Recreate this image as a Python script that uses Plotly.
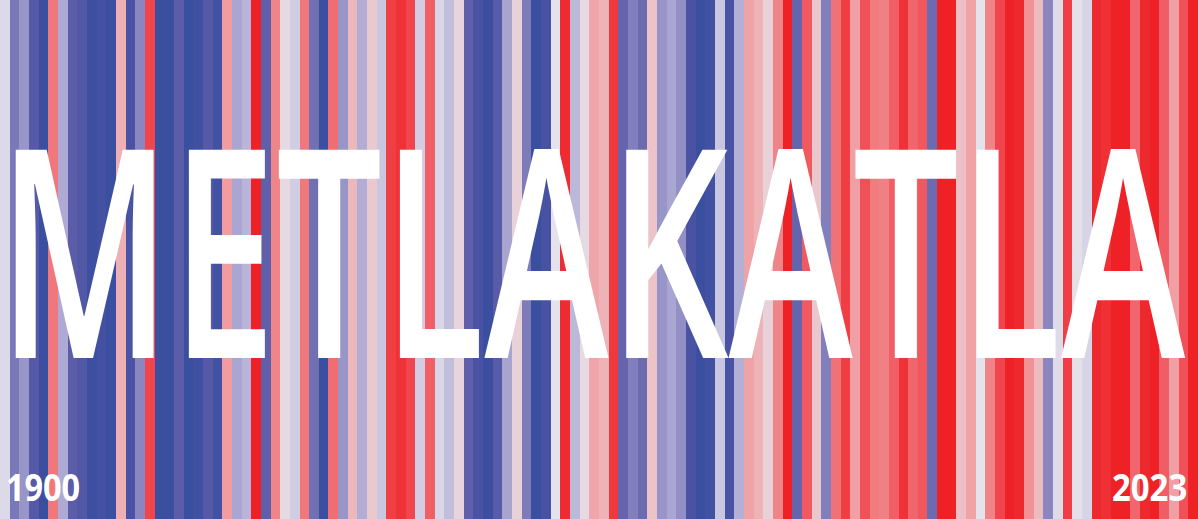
import json
import plotly.graph_objects as go

# ---- data ----
years = list(range(1900, 2024))
anomaly = [
    -0.03, -0.45, -0.30, -0.70, -1.00, 0.62, -0.20, -0.65, -0.73, -0.97,
    -0.87, -1.00, 0.30, -0.80, -0.37, 0.85, -1.00, -1.00, -0.65, -1.00,
    -0.92, -0.70, -0.90, 0.42, -0.22, -0.16, 1.00, -0.60, 0.55, 0.05,
    -0.07, 0.62, -0.50, -1.00, 0.67, -0.30, 0.25, -0.19, 0.15, -0.10,
    0.88, 0.93, 0.85, -0.07, 0.73, -0.04, -0.13, 0.08, -0.60, -0.80,
    -1.00, -0.67, -0.23, 0.10, -0.43, -1.00, -0.83, 0.00, 0.96, -0.15,
    0.05, 0.36, 0.28, 0.90, -0.57, -0.40, -0.53, 0.18, -0.30, -0.22,
    -0.33, -0.80, -1.00, -0.90, -0.10, -0.80, -0.18, 0.38, 0.28, 0.10,
    0.55, 1.00, -0.57, 0.76, 0.16, -0.40, 0.65, 0.88, 0.40, 0.80,
    0.60, 0.58, 0.73, 0.93, 0.70, 0.77, -0.53, 1.00, 1.00, 0.20,
    0.38, 0.00, 0.55, 0.85, 1.00, 0.97, 0.47, 0.23, -0.37, -0.02,
    0.88, 0.02, -0.05, 0.97, 0.94, 1.00, 1.00, 0.70, 0.97, 1.00,
    0.74, 0.40, 0.80, 1.00,
]
title_text = "METLAKATLA"
start_label = str(years[0])
end_label = str(years[-1])

colorscale = [
    [0.0, "#3a4fa0"], [0.1, "#4a52a4"], [0.2, "#6060aa"], [0.3, "#8280bc"],
    [0.4, "#aeaad4"], [0.5, "#e4e2ec"], [0.6, "#ecc0c4"], [0.7, "#f0a0a4"],
    [0.8, "#f07c80"], [0.9, "#f05058"], [1.0, "#ee2226"],
]

fig = go.Figure(
    go.Heatmap(
        z=[anomaly], x=years, y=[0],
        colorscale=colorscale, zmin=-1, zmax=1,
        showscale=False, hoverinfo="x+z",
    )
)

fig.add_annotation(
    text=title_text, x=0.5, y=0.5, xref="paper", yref="paper",
    showarrow=False, font=dict(family="Open Sans", size=100, color="white", weight=600),
)
fig.add_annotation(
    text=start_label, x=0.01, y=0.03, xref="paper", yref="paper",
    xanchor="left", yanchor="bottom", showarrow=False,
    font=dict(family="Open Sans", size=30, color="white", weight=700),
)
fig.add_annotation(
    text=end_label, x=0.99, y=0.03, xref="paper", yref="paper",
    xanchor="right", yanchor="bottom", showarrow=False,
    font=dict(family="Open Sans", size=30, color="white", weight=700),
)

fig.update_layout(
    width=1198, height=519,
    margin=dict(l=0, r=0, t=0, b=0),
    paper_bgcolor="white", plot_bgcolor="white",
    xaxis=dict(visible=False, fixedrange=True),
    yaxis=dict(visible=False, fixedrange=True),
)

# target ink boxes (px within the figure: left, top, right, bottom) for the condensed lettering
boxes = {
    title_text: [15, 148, 1187, 361],
    start_label: [7, 473, 80, 501],
    end_label: [1113, 473, 1186, 501],
}

post = """
(function(){
  var boxes = %s;
  var gd = document.querySelector('.js-plotly-plot');
  var ctx = document.createElement('canvas').getContext('2d');
  gd.querySelectorAll('text.annotation-text').forEach(function(t){
    var key = t.textContent;
    var box = boxes[key];
    if (!box) return;
    var cs = window.getComputedStyle(t);
    ctx.font = cs.fontStyle + ' ' + cs.fontWeight + ' ' + cs.fontSize + ' ' + cs.fontFamily;
    var m = ctx.measureText(key);
    var bb = t.getBBox();
    var base = bb.y + m.fontBoundingBoxAscent;
    var L = bb.x - m.actualBoundingBoxLeft, R = bb.x + m.actualBoundingBoxRight;
    var T = base - m.actualBoundingBoxAscent, B = base + m.actualBoundingBoxDescent;
    var ctm = t.parentNode.getCTM();
    var sx = (box[2]-box[0])/(R-L), sy = (box[3]-box[1])/(B-T);
    var tx = box[0] - ctm.e - sx*L, ty = box[1] - ctm.f - sy*T;
    t.setAttribute('transform', 'matrix('+sx+',0,0,'+sy+','+tx+','+ty+')');
  });
})();
""" % json.dumps(boxes)

fig.write_html("out.html", config={"displayModeBar": False}, post_script=post)
